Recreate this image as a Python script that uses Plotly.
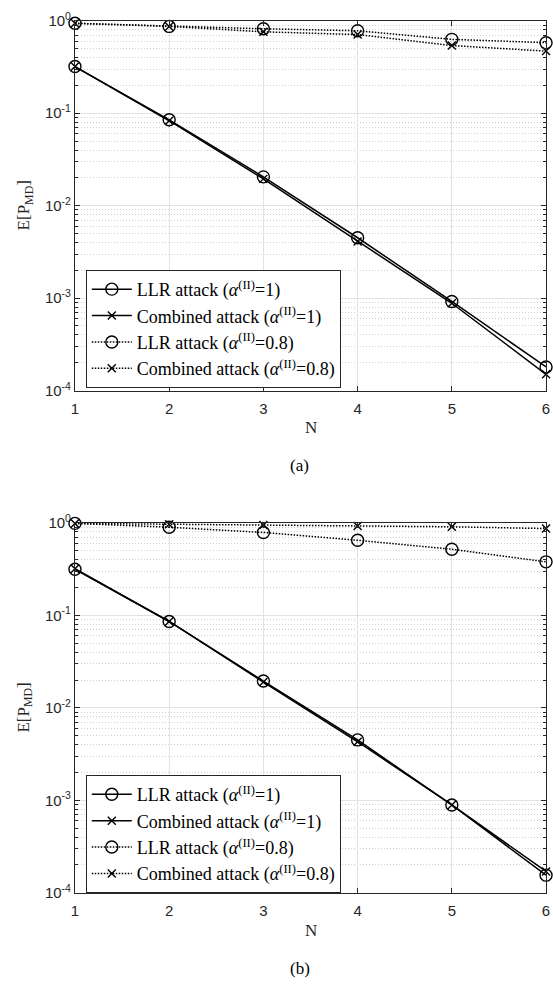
import plotly.graph_objects as go

# Number of observations N
N = [1, 2, 3, 4, 5, 6]

# (a) expected missed-detection probability
a_llr_1 = [0.32, 0.085, 0.0205, 0.0045, 0.00092, 0.00018]
a_comb_1 = [0.32, 0.083, 0.0195, 0.0041, 0.00088, 0.00015]
a_llr_08 = [0.94, 0.87, 0.82, 0.78, 0.63, 0.58]
a_comb_08 = [0.94, 0.87, 0.76, 0.71, 0.54, 0.47]

# (b) expected missed-detection probability
b_llr_1 = [0.316, 0.086, 0.0195, 0.0045, 0.00089, 0.000155]
b_comb_1 = [0.32, 0.086, 0.019, 0.0043, 0.00089, 0.00017]
b_llr_08 = [0.99, 0.90, 0.79, 0.65, 0.52, 0.38]
b_comb_08 = [0.99, 0.97, 0.95, 0.93, 0.91, 0.87]

series_names = [
    "LLR attack (<i>α</i><sup>(II)</sup>=1)",
    "Combined attack (<i>α</i><sup>(II)</sup>=1)",
    "LLR attack (<i>α</i><sup>(II)</sup>=0.8)",
    "Combined attack (<i>α</i><sup>(II)</sup>=0.8)",
]

y_tickvals = [1e-4, 1e-3, 1e-2, 1e-1, 1]
y_ticktext = ["10<sup>-4</sup>", "10<sup>-3</sup>", "10<sup>-2</sup>", "10<sup>-1</sup>", "10<sup>0</sup>"]
x_tickvals = [1, 2, 3, 4, 5, 6]

W, H = 553, 990
AX = "#262626"
SERIF = "Liberation Serif"
SANS = "Liberation Sans"
DOT = "1.5px,1.5px"

fig = go.Figure()

styles = [
    dict(symbol="circle-open", size=12, dash="solid"),
    dict(symbol="x-thin-open", size=8, dash="solid"),
    dict(symbol="circle-open", size=12, dash=DOT),
    dict(symbol="x-thin-open", size=8, dash=DOT),
]

panels = [
    ("x", "y", "legend", [a_llr_1, a_comb_1, a_llr_08, a_comb_08]),
    ("x2", "y2", "legend2", [b_llr_1, b_comb_1, b_llr_08, b_comb_08]),
]

for xa, ya, lg, data in panels:
    for name, st, vals in zip(series_names, styles, data):
        fig.add_trace(go.Scatter(
            x=N, y=vals, name=name, xaxis=xa, yaxis=ya, legend=lg,
            mode="lines+markers", cliponaxis=False,
            line=dict(color="black", width=1.5, dash=st["dash"]),
            marker=dict(symbol=st["symbol"], size=st["size"], color="black",
                        line=dict(color="black", width=1.4)),
        ))

minor_vals = [m * 10.0 ** e for e in range(-4, 0) for m in range(2, 10)]

x_dom = [72 / W, 550 / W]
y_doms = [[1 - 387 / H, 1 - 10 / H], [1 - 899 / H, 1 - 522 / H]]


def xaxis_cfg(anchor):
    return dict(
        domain=x_dom, anchor=anchor, range=[1, 6], tickvals=x_tickvals,
        showline=True, linecolor=AX, linewidth=1, mirror="allticks",
        ticks="inside", ticklen=5, tickcolor=AX, tickwidth=1,
        showgrid=True, gridcolor="#e2e2e2", gridwidth=1, zeroline=False,
        tickfont=dict(family=SANS, size=15, color=AX),
        ticklabeloverflow="allow", ticklabelstandoff=4,
    )


def yaxis_cfg(anchor, dom):
    return dict(
        domain=dom, anchor=anchor, type="log", range=[-4, 0],
        tickvals=y_tickvals, ticktext=y_ticktext,
        showline=True, linecolor=AX, linewidth=1, mirror="allticks",
        ticks="inside", ticklen=5, tickcolor=AX, tickwidth=1,
        showgrid=True, gridcolor="#e2e2e2", gridwidth=1, zeroline=False,
        tickfont=dict(family=SANS, size=15, color=AX),
        ticklabeloverflow="allow",
        minor=dict(tickmode="array", tickvals=minor_vals, ticks="inside",
                   ticklen=3, tickcolor=AX, showgrid=True,
                   gridcolor="#cfcfcf", griddash="1px,2px", gridwidth=1),
    )


legend_common = dict(
    bgcolor="white", bordercolor=AX, borderwidth=1,
    font=dict(family=SERIF, size=18, color="black"),
    xanchor="left", yanchor="top", tracegroupgap=0,
    itemwidth=40,
)

annotations = []
for dom, tag, n_y, lbl_y in [(y_doms[0], "(a)", 425, 463), (y_doms[1], "(b)", 937, 976)]:
    annotations.append(dict(
        text="E[P<sub>MD</sub>]", textangle=-90, x=21 / W, y=(dom[0] + dom[1]) / 2,
        xref="paper", yref="paper", showarrow=False, xanchor="center", yanchor="middle",
        font=dict(family=SERIF, size=17, color=AX),
    ))
    annotations.append(dict(
        text="N", x=311 / W, y=1 - n_y / H, xref="paper", yref="paper",
        showarrow=False, xanchor="center", yanchor="middle",
        font=dict(family=SERIF, size=17, color=AX),
    ))
    annotations.append(dict(
        text=tag, x=300 / W, y=1 - lbl_y / H, xref="paper", yref="paper",
        showarrow=False, xanchor="center", yanchor="middle",
        font=dict(family=SERIF, size=17, color="black"),
    ))

fig.update_layout(
    width=W, height=H, margin=dict(l=0, r=0, t=0, b=0),
    paper_bgcolor="white", plot_bgcolor="white",
    xaxis=xaxis_cfg("y"), yaxis=yaxis_cfg("x", y_doms[0]),
    xaxis2=xaxis_cfg("y2"), yaxis2=yaxis_cfg("x2", y_doms[1]),
    legend=dict(x=83 / W, y=1 - 264 / H, **legend_common),
    legend2=dict(x=83 / W, y=1 - 779 / H, **legend_common),
    annotations=annotations,
    showlegend=True,
)

fig.write_html("out.html")
